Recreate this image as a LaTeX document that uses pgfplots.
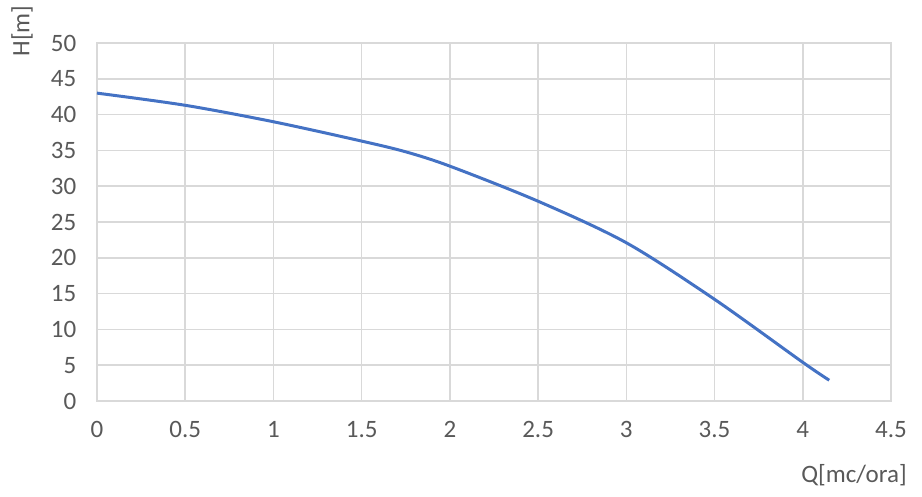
\documentclass[border=0pt]{standalone}
\usepackage{fontspec}
\setmainfont{Carlito}
\usepackage{pgfplots}
\pgfplotsset{compat=1.18}
\definecolor{gridgray}{HTML}{D9D9D9}
\definecolor{txtgray}{HTML}{595959}
\definecolor{curveblue}{HTML}{4472C4}
\begin{document}
\fontsize{12.5}{15}\selectfont
\begin{tikzpicture}
\path[use as bounding box] (-48.5pt,-48pt) rectangle (412.5pt,200.5pt);
\begin{axis}[
  at={(0,0)}, anchor=south west,
  scale only axis,
  width=397pt, height=179pt,
  xmin=0, xmax=4.5, ymin=0, ymax=50,
  xtick={0,0.5,...,4.5}, ytick={0,5,...,50},
  xticklabels={0,0.5,1,1.5,2,2.5,3,3.5,4,4.5},
  /pgf/number format/assume math mode=true,
  major tick length=0pt,
  grid=major,
  major grid style={draw=gridgray, line width=0.8pt},
  axis line style={draw=gridgray, line width=0.8pt},
  ticklabel style={font=\fontsize{12.5}{15}\selectfont, text=txtgray},
  yticklabel style={xshift=-6pt},
  xticklabel style={yshift=-6pt},
  clip=false,
]
\addplot[curveblue, line width=1.5pt, smooth] coordinates {
  (0,43) (0.5,41.3) (1,39) (1.5,36.3) (1.75,34.8) (2,32.8) (2.5,27.9)
  (3,22.1) (3.5,14.2) (4,5.4) (4.15,2.9)
};
\end{axis}
\node[rotate=90, text=txtgray, font=\fontsize{12.5}{15}\selectfont] at (-37.5pt,185pt) {H[m]};
\node[text=txtgray, font=\fontsize{12.5}{15}\selectfont] at (378.5pt,-37pt) {Q[mc/ora]};
\end{tikzpicture}
\end{document}
